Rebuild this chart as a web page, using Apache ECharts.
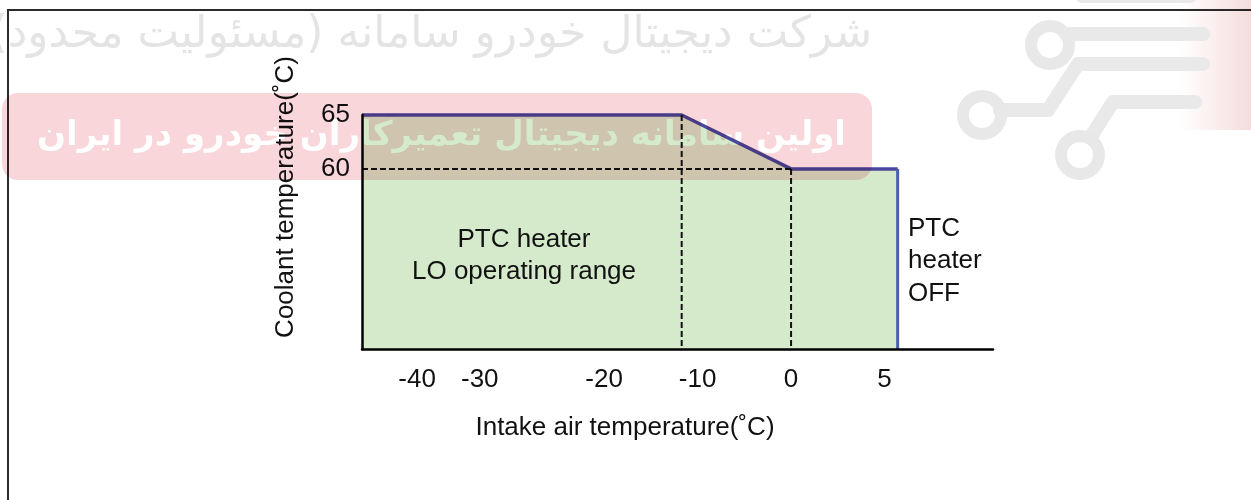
<!DOCTYPE html>
<html>
<head>
<meta charset="utf-8">
<title>PTC heater LO operating range</title>
<script src="https://cdn.jsdelivr.net/npm/echarts@6.0.0/dist/echarts.min.js"></script>
<style>
  html, body { margin: 0; padding: 0; background: #ffffff; }
  #wrap { position: relative; width: 1251px; height: 500px; }
  #chart, #brand { position: absolute; left: 0; top: 0; width: 1251px; height: 500px; }
  #brand { pointer-events: none; mix-blend-mode: multiply; }
</style>
</head>
<body>
<div id="wrap">
  <div id="chart"></div>
  <div id="brand"></div>
</div>
<script>
// Tick values and the text printed under them
const xTickValues = [-40, -30, -20, -10, 0, 5];
const xTickLabels = ['-40', '-30', '-20', '-10', '0', '5'];
const yTickValues = [60, 65];
const yTickLabels = ['60', '65'];

// Where each tick sits along the drawn (non-uniform) intake axis
const xAxisStops = [-40, -33.3, -20, -10, 0, 10];

// Upper limit of the LO operating range: intake air °C -> coolant °C
const intakeTemp = [-48.8, -11.7, 0, 5.7];
const coolantTemp = [65, 65, 60, 60];

// Extent of both axes
const intakeRange = [-48.8, 10.8];
const coolantRange = [43.3, 65];

const FONT = '"Liberation Sans", Arial, Helvetica, sans-serif';
const FA_FONT = '"DejaVu Sans", "Noto Sans", sans-serif';

// Piecewise-linear placement of an intake temperature on the drawn axis
function warp(t) {
  const v = xTickValues, s = xAxisStops, n = v.length;
  let i = 0;
  if (t <= v[0]) i = 0;
  else if (t >= v[n - 1]) i = n - 2;
  else { while (t > v[i + 1]) i++; }
  return s[i] + (t - v[i]) * (s[i + 1] - s[i]) / (v[i + 1] - v[i]);
}

const boundary = intakeTemp.map((t, i) => [warp(t), coolantTemp[i]]);
const xLast = warp(intakeTemp[intakeTemp.length - 1]);
const xFirst = warp(intakeTemp[0]);
const yFloor = coolantRange[0];

const labels = [
  // page frame
  { type: 'line', z: -5, shape: { x1: 7, y1: 10, x2: 1251, y2: 10 }, style: { stroke: '#2b2b2b', lineWidth: 2 } },
  { type: 'line', z: -5, shape: { x1: 8, y1: 9, x2: 8, y2: 500 }, style: { stroke: '#2b2b2b', lineWidth: 2 } },
  { type: 'text', z: 20, x: 625, y: 428, style: { text: 'Intake air temperature(˚C)', fill: '#111', font: '26px ' + FONT, align: 'center', verticalAlign: 'middle' } },
  { type: 'text', z: 20, x: 286, y: 197, rotation: Math.PI / 2, style: { text: 'Coolant temperature(˚C)', fill: '#111', font: '26px ' + FONT, align: 'center', verticalAlign: 'middle' } },
  { type: 'text', z: 20, x: 524, y: 240, style: { text: 'PTC heater', fill: '#111', font: '26px ' + FONT, align: 'center', verticalAlign: 'middle' } },
  { type: 'text', z: 20, x: 524, y: 272, style: { text: 'LO operating range', fill: '#111', font: '26px ' + FONT, align: 'center', verticalAlign: 'middle' } },
  { type: 'text', z: 20, x: 908, y: 229, style: { text: 'PTC', fill: '#111', font: '26px ' + FONT, align: 'left', verticalAlign: 'middle' } },
  { type: 'text', z: 20, x: 908, y: 261, style: { text: 'heater', fill: '#111', font: '26px ' + FONT, align: 'left', verticalAlign: 'middle' } },
  { type: 'text', z: 20, x: 908, y: 294, style: { text: 'OFF', fill: '#111', font: '26px ' + FONT, align: 'left', verticalAlign: 'middle' } }
];

function dashed(points) {
  return {
    type: 'line', data: points, symbol: 'none', clip: false, silent: true, z: 4,
    lineStyle: { color: '#111', width: 2, type: [6, 3] }
  };
}

const chart = echarts.init(document.getElementById('chart'), null, { renderer: 'canvas' });
chart.setOption({
  animation: false,
  backgroundColor: '#ffffff',
  grid: { left: 362, right: 258, top: 115, bottom: 151, containLabel: false, outerBoundsMode: 'none' },
  xAxis: {
    type: 'value', z: 6,
    min: warp(intakeRange[0]), max: warp(intakeRange[1]),
    axisLine: { show: true, onZero: false, lineStyle: { color: '#000', width: 2.5 } },
    axisTick: { show: false },
    splitLine: { show: false },
    axisLabel: {
      customValues: xTickValues.map(warp),
      margin: 18, color: '#111', fontSize: 26, fontFamily: FONT,
      formatter: function (v) {
        let best = 0;
        xAxisStops.forEach((s, i) => { if (Math.abs(s - v) < Math.abs(xAxisStops[best] - v)) best = i; });
        return xTickLabels[best];
      }
    }
  },
  yAxis: {
    type: 'value', z: 6,
    min: coolantRange[0], max: coolantRange[1],
    axisLine: { show: true, onZero: false, lineStyle: { color: '#000', width: 2.5 } },
    axisTick: { show: false },
    splitLine: { show: false },
    axisLabel: {
      customValues: yTickValues,
      margin: 12, color: '#111', fontSize: 26, fontFamily: FONT,
      formatter: function (v) { return yTickLabels[yTickValues.indexOf(v)]; }
    }
  },
  graphic: { elements: labels },
  series: [
    {
      // LO operating range: upper limit with the filled region beneath it
      type: 'line', data: boundary, symbol: 'none', clip: false, silent: true, z: 3,
      lineStyle: { color: '#4b479d', width: 3.5 },
      areaStyle: { color: '#d5eacb', opacity: 1, origin: 'start' }
    },
    {
      type: 'line', data: [[xLast, coolantTemp[coolantTemp.length - 1]], [xLast, yFloor]],
      symbol: 'none', clip: false, silent: true, z: 5,
      lineStyle: { color: '#4a5fb2', width: 3 }
    },
    dashed([[xFirst, 60], [warp(0), 60]]),
    dashed([[warp(intakeTemp[1]), coolantTemp[1]], [warp(intakeTemp[1]), yFloor]]),
    dashed([[warp(0), 60], [warp(0), yFloor]])
  ]
});

// Brand layer, multiplied over the chart
const brand = echarts.init(document.getElementById('brand'), null, { renderer: 'canvas' });
brand.setOption({
  animation: false,
  backgroundColor: 'transparent',
  graphic: { elements: [
    { type: 'text', x: 872, y: 36, style: {
        text: 'شرکت دیجیتال خودرو سامانه (مسئولیت محدود)', fill: '#e4e4e4',
        font: '44px ' + FA_FONT, align: 'right', verticalAlign: 'middle' } },
    { type: 'rect', shape: { x: 2, y: 93, width: 870, height: 87, r: 16 }, style: { fill: '#f8d6d9' } },
    { type: 'text', z: 2, x: 846, y: 136, style: {
        text: 'اولین سامانه دیجیتال تعمیرکاران خودرو در ایران', fill: '#ffffff',
        font: 'bold 34px ' + FA_FONT, align: 'right', verticalAlign: 'middle' } },
    { type: 'rect', shape: { x: 1180, y: 0, width: 71, height: 130 }, style: {
        fill: new echarts.graphic.LinearGradient(0, 0, 1, 0, [
          { offset: 0, color: 'rgba(243,214,214,0)' },
          { offset: 1, color: 'rgba(243,214,214,0.85)' }]) } },
    { type: 'polyline', shape: { points: [[1082, -4], [1190, -4]] }, style: { stroke: '#e9e9e9', lineWidth: 14, lineCap: 'round', fill: null } },
    { type: 'circle', shape: { cx: 1050, cy: 45, r: 19 }, style: { stroke: '#e8e8e8', lineWidth: 12, fill: null } },
    { type: 'polyline', shape: { points: [[1066, 34], [1203, 34]] }, style: { stroke: '#e9e9e9', lineWidth: 14, lineCap: 'round', lineJoin: 'round', fill: null } },
    { type: 'polyline', shape: { points: [[1203, 64], [1078, 64], [1048, 110], [1000, 110]] }, style: { stroke: '#e9e9e9', lineWidth: 14, lineCap: 'round', lineJoin: 'round', fill: null } },
    { type: 'circle', shape: { cx: 982, cy: 115, r: 19 }, style: { stroke: '#e8e8e8', lineWidth: 12, fill: null } },
    { type: 'polyline', shape: { points: [[1195, 102], [1113, 102], [1092, 135]] }, style: { stroke: '#e9e9e9', lineWidth: 14, lineCap: 'round', lineJoin: 'round', fill: null } },
    { type: 'circle', shape: { cx: 1080, cy: 155, r: 19 }, style: { stroke: '#e8e8e8', lineWidth: 12, fill: null } }
  ] }
});
</script>
</body>
</html>
